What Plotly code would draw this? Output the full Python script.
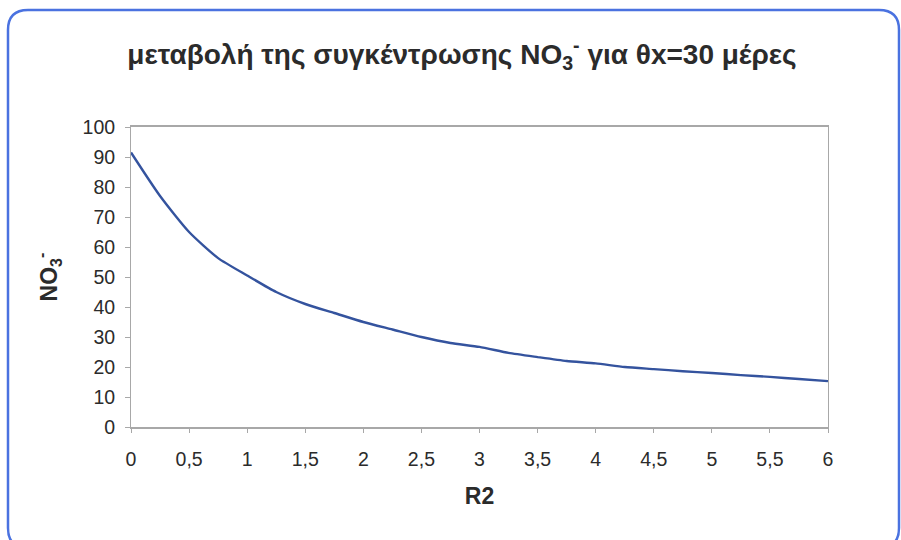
import plotly.graph_objects as go

# NO3- concentration versus R2 for a solids retention time of 30 days
r2 = [0, 0.25, 0.5, 0.75, 1, 1.25, 1.5, 1.75, 2, 2.25, 2.5, 2.75, 3,
      3.25, 3.5, 3.75, 4, 4.25, 4.5, 4.75, 5, 5.25, 5.5, 5.75, 6]
no3 = [91.5, 77, 65, 56.3, 50.5, 45, 41, 38, 35, 32.5, 30, 28, 26.7,
       24.7, 23.3, 22, 21.2, 20, 19.3, 18.6, 18, 17.3, 16.7, 16, 15.3]

x_ticks = [0, 0.5, 1, 1.5, 2, 2.5, 3, 3.5, 4, 4.5, 5, 5.5, 6]
y_ticks = [0, 10, 20, 30, 40, 50, 60, 70, 80, 90, 100]

W, H = 901, 540
ML, MR, MT, MB = 131, 73, 127, 113
PW, PH = W - ML - MR, H - MT - MB


def px(x):
    return (x - ML) / PW


def py(y):
    return (H - MB - y) / PH


# rounded outer frame, built in pixel units then mapped to paper units
x0, x1, y0, y1, r = 8, 899, 10, 548, 20
frame = (
    f"M {px(x0 + r)},{py(y0)} L {px(x1 - r)},{py(y0)} "
    f"Q {px(x1)},{py(y0)} {px(x1)},{py(y0 + r)} "
    f"L {px(x1)},{py(y1 - r)} Q {px(x1)},{py(y1)} {px(x1 - r)},{py(y1)} "
    f"L {px(x0 + r)},{py(y1)} Q {px(x0)},{py(y1)} {px(x0)},{py(y1 - r)} "
    f"L {px(x0)},{py(y0 + r)} Q {px(x0)},{py(y0)} {px(x0 + r)},{py(y0)} Z"
)

fig = go.Figure()
fig.add_trace(go.Scatter(
    x=r2, y=no3, mode="lines",
    line=dict(color="#34539e", width=2.4, shape="spline", smoothing=0.6),
    hoverinfo="x+y", showlegend=False,
))

font = "Liberation Sans, Arial, sans-serif"

fig.update_layout(
    width=W, height=H,
    margin=dict(l=ML, r=MR, t=MT, b=MB, pad=0),
    paper_bgcolor="white", plot_bgcolor="white",
    separators=",.",
    font=dict(family=font, color="#2b2b2b", size=19.5),
    title=dict(
        text="<b>μεταβολή της συγκέντρωσης NO<sub>3</sub><sup>-</sup> για θx=30 μέρες</b>",
        x=462 / W, xref="container", xanchor="center",
        y=1 - 54 / H, yref="container", yanchor="middle",
        font=dict(family=font, size=28, color="#2b2b2b"),
    ),
    xaxis=dict(
        range=[0, 6], tickvals=x_ticks, tickformat=".1~f",
        showgrid=False, zeroline=False,
        showline=True, mirror=True, linecolor="#a8a8a8", linewidth=2,
        ticks="outside", ticklen=4, tickcolor="#a8a8a8",
        ticklabelstandoff=10,
        title=dict(text="<b>R2</b>", font=dict(size=23), standoff=18),
    ),
    yaxis=dict(
        range=[0, 100], tickvals=y_ticks,
        showgrid=False, zeroline=False,
        showline=True, mirror=True, linecolor="#a8a8a8", linewidth=1,
        ticks="outside", ticklen=5, tickcolor="#a8a8a8",
        ticklabelstandoff=6,
        title=dict(text="<b>NO<sub>3</sub><sup>-</sup></b>", font=dict(size=23), standoff=18),
    ),
    shapes=[dict(type="path", path=frame, xref="paper", yref="paper",
                 line=dict(color="#4a72e0", width=2.5), layer="above")],
)

fig.write_html("out.html")
